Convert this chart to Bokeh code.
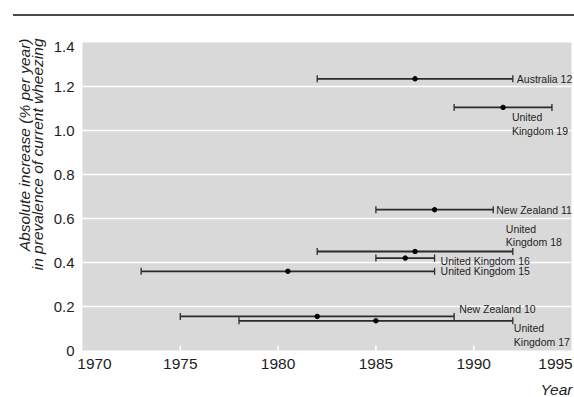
import math
from bokeh.plotting import figure
from bokeh.layouts import column
from bokeh.models import ColumnDataSource, Div, Range1d
from bokeh.embed import file_html
from bokeh.resources import INLINE
from bokeh.core.properties import value

# ---- data ----
studies = ["Australia 12", "United Kingdom 19", "New Zealand 11", "United Kingdom 18",
           "United Kingdom 16", "United Kingdom 15", "New Zealand 10", "United Kingdom 17"]
label_texts = ["Australia 12", "United\nKingdom 19", "New Zealand 11", "United\nKingdom 18",
               "United Kingdom 16", "United Kingdom 15", "New Zealand 10", "United\nKingdom 17"]
increase = [1.235, 1.105, 0.64, 0.45, 0.42, 0.36, 0.155, 0.135]
year_start = [1982, 1989, 1985, 1982, 1985, 1973, 1975, 1978]
year_mid = [1987, 1991.5, 1988, 1987, 1986.5, 1980.5, 1982, 1985]
year_end = [1992, 1994, 1991, 1992, 1988, 1988, 1989, 1992]

x_ticks = [1970, 1975, 1980, 1985, 1990, 1995]
x_tick_labels = ["1970", "1975", "1980", "1985", "1990", "1995"]
y_ticks = [0, 0.2, 0.4, 0.6, 0.8, 1.0, 1.2, 1.4]
y_tick_labels = ["0", "0.2", "0.4", "0.6", "0.8", "1.0", "1.2", "1.4"]
y_title = "Absolute increase (% per year)\nin prevalence of current wheezing"
x_title = "Year"

# ---- style (pixels) ----
label_dx = [4, -40, 3, -7, 6, 6, 5, 1]
label_dy = [0, 4, 0, -3, 3, 0, -7, 1]
label_base = ["middle", "top", "middle", "bottom", "middle", "middle", "middle", "top"]
xtick_dx = [12, 0, 0, 0, 0, -16]
ytick_dy = [0, 0, 0, 0, 0, 0, 0, 4.5]

FONT = "Liberation Sans"
INK = "#1e1e1e"
BAR = "#2b2b2b"
PANEL = "#d9d9d9"

# figure size and the panel's margins inside it
W, H = 574, 381
ML, MR, MT, MB = 82, 3, 26, 47
kx = (W - ML - MR) / (x_ticks[-1] - x_ticks[0])
ky = (H - MT - MB) / (y_ticks[-1] - y_ticks[0])

rule = Div(text="", width=561, height=2, margin=(14, 0, 0, 13),
           styles={"background-color": "#4a4a4a"})

p = figure(width=W, height=H,
           x_range=Range1d(x_ticks[0] - ML / kx, x_ticks[-1] + MR / kx),
           y_range=Range1d(y_ticks[0] - MB / ky, y_ticks[-1] + MT / ky),
           output_backend="svg", toolbar_location=None,
           min_border=0, background_fill_color="white", border_fill_color="white",
           outline_line_color=None, margin=(0, 0, 0, 0))
p.xaxis.visible = False
p.yaxis.visible = False
p.xgrid.visible = False
p.ygrid.visible = False

# grey panel spanning the axis extents
p.quad(left=[x_ticks[0]], right=[x_ticks[-1]], bottom=[y_ticks[0]], top=[y_ticks[-1]],
       fill_color=PANEL, line_color=None)
# white horizontal grid lines
inner_y = y_ticks[1:-1]
p.segment(x0=[x_ticks[0]] * len(inner_y), x1=[x_ticks[-1]] * len(inner_y),
          y0=inner_y, y1=inner_y, line_color="white", line_width=1.5)
# white inward x ticks
p.scatter(x=x_ticks[1:-1], y=[y_ticks[0]] * (len(x_ticks) - 2), marker="dash",
          angle=math.pi / 2, size=10, line_color="white", line_width=1.5)

src = ColumnDataSource(dict(y=increase, lo=year_start, mid=year_mid, hi=year_end,
                            label=label_texts, dx=label_dx, dy=label_dy, bb=label_base,
                            name=studies))

p.segment(x0="lo", y0="y", x1="hi", y1="y", source=src, line_color=BAR, line_width=1.8)
p.scatter(x="lo", y="y", source=src, marker="dash", angle=math.pi / 2, size=7,
          line_color=BAR, line_width=1.3)
p.scatter(x="hi", y="y", source=src, marker="dash", angle=math.pi / 2, size=7,
          line_color=BAR, line_width=1.3)
p.scatter(x="mid", y="y", source=src, marker="circle", size=4.5, color="black")

p.text(x="hi", y="y", text="label", source=src, x_offset="dx", y_offset="dy",
       text_align="left", text_baseline="bb", text_font=value(FONT),
       text_font_size="10.5px", text_color=INK, text_line_height=1.15)

# tick labels
xs = ColumnDataSource(dict(x=x_ticks, y=[y_ticks[0]] * len(x_ticks), t=x_tick_labels, dx=xtick_dx))
p.text(x="x", y="y", text="t", source=xs, x_offset="dx", y_offset=8,
       text_align="center", text_baseline="top", text_font=value(FONT),
       text_font_size="15.5px", text_color=INK)
ys = ColumnDataSource(dict(x=[x_ticks[0]] * len(y_ticks), y=y_ticks, t=y_tick_labels, dy=ytick_dy))
p.text(x="x", y="y", text="t", source=ys, x_offset=-8, y_offset="dy",
       text_align="right", text_baseline="middle", text_font=value(FONT),
       text_font_size="15px", text_color=INK)

# axis titles
p.text(x=[x_ticks[0]], y=[y_ticks[-1]], text=[y_title], x_offset=-67, y_offset=-4,
       angle=math.pi / 2, text_align="right", text_baseline="top", text_font=value(FONT),
       text_font_style="italic", text_font_size="15.5px", text_color=INK,
       text_line_height=0.78)
p.text(x=[x_ticks[-1]], y=[y_ticks[0]], text=[x_title], x_offset=1, y_offset=30,
       text_align="right", text_baseline="top", text_font=value(FONT),
       text_font_style="italic", text_font_size="15.5px", text_color=INK)

layout = column(rule, p, spacing=0)
open("out.html", "w").write(file_html(layout, INLINE))
